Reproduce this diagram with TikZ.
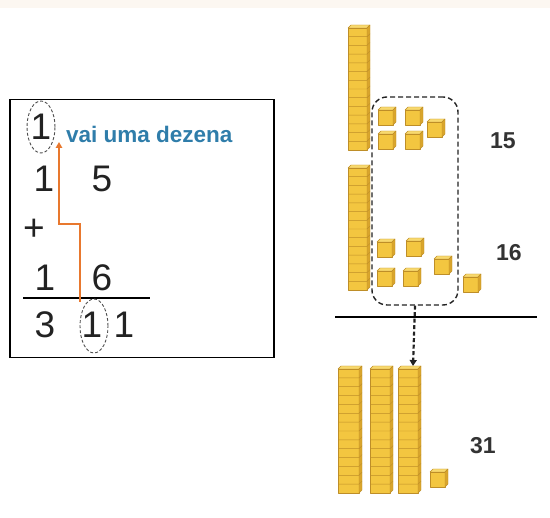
\documentclass[tikz,border=0pt]{standalone}
\usepackage{fontspec}
\setmainfont{Liberation Sans}
\usetikzlibrary{arrows.meta}

\definecolor{cubefront}{HTML}{F3C640}
\definecolor{cubetop}{HTML}{F8D96E}
\definecolor{cubeside}{HTML}{D9A52C}
\definecolor{cubeedge}{HTML}{BE8E28}
\definecolor{carry}{HTML}{E8782E}
\definecolor{tenblue}{HTML}{2F7DAA}
\definecolor{ink}{HTML}{222222}
\definecolor{label}{HTML}{333333}
\definecolor{paper}{HTML}{FCF7F1}

\tikzset{
  block/.style={draw=cubeedge, line width=0.45pt, line join=round},
  digit/.style={font=\fontsize{37}{40}\selectfont, text=ink, inner sep=0pt},
  count/.style={font=\fontsize{23}{27}\selectfont\bfseries, text=label, inner sep=0pt},
  ring/.style={draw=ink!80, dash pattern=on 3pt off 2pt, line width=0.9pt},
  carryline/.style={draw=carry, line width=1.8pt, -{Triangle[length=6pt,width=6.5pt]}},
}

% unit cube centred on (#1,#2)
\newcommand\ucube[2]{%
  \filldraw[block, fill=cubefront] (#1-9,#2-6) rectangle (#1+6,#2+9);
  \filldraw[block, fill=cubetop] (#1-9,#2-6) -- (#1+6,#2-6) -- (#1+9,#2-9) -- (#1-6,#2-9) -- cycle;
  \filldraw[block, fill=cubeside] (#1+6,#2-6) -- (#1+9,#2-9) -- (#1+9,#2+6) -- (#1+6,#2+9) -- cycle;
}
% ten-rod from (#1,#2) to (#3,#4) with #5 segments
\newcommand\trod[5]{%
  \filldraw[block, fill=cubefront] (#1,#2+3) rectangle (#3-3,#4);
  \filldraw[block, fill=cubetop] (#1,#2+3) -- (#3-3,#2+3) -- (#3,#2) -- (#1+3,#2) -- cycle;
  \filldraw[block, fill=cubeside] (#3-3,#2+3) -- (#3,#2) -- (#3,#4-3) -- (#3-3,#4) -- cycle;
  \pgfmathsetmacro\rodstep{(#4-#2-3)/#5}
  \foreach \k in {1,...,\numexpr#5-1\relax}{
    \pgfmathsetmacro\yy{#2+3+\k*\rodstep}
    \draw[block] (#1,\yy) -- (#3-3,\yy) -- (#3,\yy-3);
  }
}

\begin{document}
\begin{tikzpicture}[x=1pt,y=-1pt]
\useasboundingbox (0,0) rectangle (550,518);
\fill[paper] (0,0) rectangle (550,8);

% column addition
\node[draw=black, line width=1.1pt, minimum width=264pt, minimum height=258pt, inner sep=0pt] (box) at (142,228.5) {};
\node[digit] (c1) at (41,127) {1};
\node[font=\fontsize{22.5}{26}\selectfont\bfseries, text=tenblue, anchor=base west, inner sep=0pt] (note) at (66,143) {vai uma dezena};
\node[digit] (a1) at (44,179) {1};
\node[digit] (a2) at (102,179) {5};
\node[digit] (plus) at (34,230) {+};
\node[digit] (b1) at (45,278) {1};
\node[digit] (b2) at (102,278) {6};
\coordinate (barL) at (23,298);
\coordinate (barR) at (150,298);
\draw[line width=1.8pt] (barL) -- (barR);
\node[digit] (s1) at (45,325) {3};
\node[digit] (s2) at (92,325) {1};
\node[digit] (s3) at (124,325) {1};
\draw[ring] (c1) ellipse (14pt and 26pt);
\draw[ring] (94,326) ellipse (14pt and 27pt);
\coordinate (carryA) at (80,302);
\coordinate (carryB) at (59,224);
\coordinate (carryC) at (59,142);
\draw[carryline] (carryA) |- (carryB) -- (carryC);

% base-ten blocks: 15 and 16
\trod{348}{25}{370}{150}{14}
\trod{348}{165}{370}{290}{14}
\node[draw=ink, line width=1.4pt, dash pattern=on 5pt off 3pt, rounded corners=15pt,
      minimum width=86pt, minimum height=208pt, inner sep=0pt] (group) at (415,201) {};
\ucube{387}{116}
\ucube{414}{116}
\ucube{387}{140}
\ucube{414}{140}
\ucube{436}{128}
\ucube{386}{248}
\ucube{415}{247}
\ucube{443}{265}
\ucube{386}{277}
\ucube{412}{277}
\ucube{472}{283}
\node[count] (n15) at (503,141) {15};
\node[count] (n16) at (509,253) {16};

% sum line and regrouping arrow
\coordinate (sumL) at (335,317);
\coordinate (sumR) at (537,317);
\draw[line width=2.4pt] (sumL) -- (sumR);
\coordinate (rodtop) at (413,366);
\draw[ink, line width=2.2pt, dash pattern=on 4pt off 2.5pt, -{Triangle[length=6pt,width=7pt]}]
  (group.south) -- (rodtop);

% result: 31
\trod{338}{366}{362}{493}{14}
\trod{370}{366}{393}{493}{14}
\trod{398}{366}{421}{493}{14}
\ucube{439}{478}
\node[count] (n31) at (483,446) {31};
\end{tikzpicture}
\end{document}
